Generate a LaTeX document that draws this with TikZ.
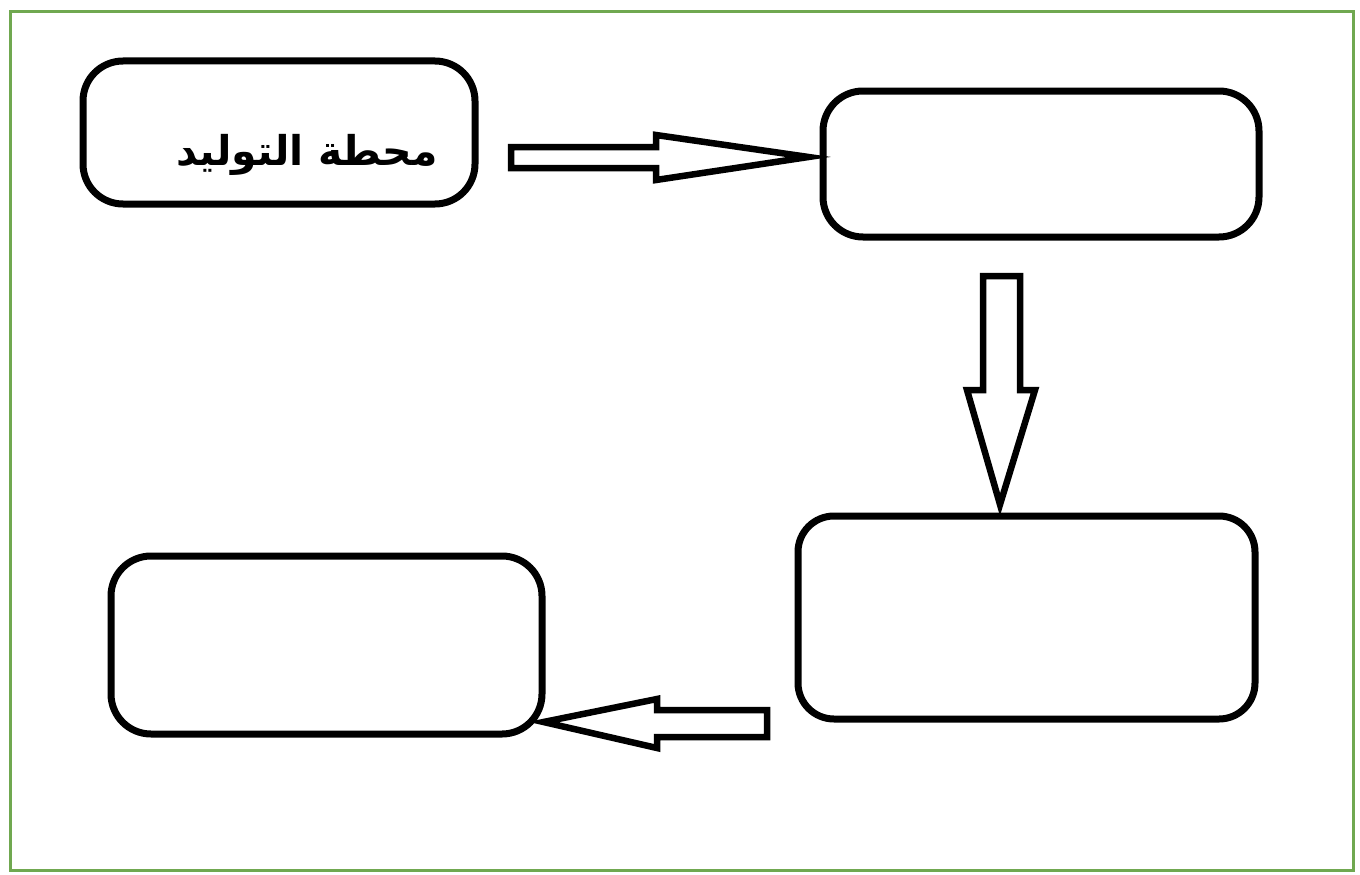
\documentclass[tikz,border=0pt]{standalone}
\usepackage{fontspec}
\newfontfamily\arabicfont[Script=Arabic]{DejaVu Sans}
\TeXXeTstate=1
\usetikzlibrary{calc}
\definecolor{frame}{RGB}{112,168,80}
\tikzset{
  box/.style={draw=black, line width=7pt, rounded corners=40pt, fill=white, inner sep=0pt},
  blockarrow/.style={draw=black, line width=6.5pt, line join=miter, fill=white},
}
\begin{document}
\begin{tikzpicture}[x=1pt,y=-1pt]
\useasboundingbox (0,0) rectangle (1360,875);
\fill[white] (0,0) rectangle (1360,875);
\draw[frame, line width=3pt] (10,12) rectangle (1353,870);
\node[box, minimum width=392pt, minimum height=143pt] (A) at (279,132.5) {};
\node[box, minimum width=436pt, minimum height=146pt] (B) at (1041,164) {};
\node[box, rounded corners=36pt, minimum width=457pt, minimum height=203pt] (C) at (1026.5,617.5) {};
\node[box, minimum width=431pt, minimum height=178pt] (D) at (326.5,645) {};
\node[font=\arabicfont\bfseries\fontsize{41}{48}\selectfont, inner sep=0pt] (Atext) at (307,155) {\beginR محطة التوليد\endR};
% arrow A -> B
\draw[blockarrow] (511,147) -- (656,147) -- (656,135) -- ($(B.west)+(-11,-7)$) -- (656,180) -- (656,168) -- (511,168) -- cycle;
% arrow B -> C
\draw[blockarrow] (983,276) -- (1020,276) -- (1020,390) -- (1035,390) -- ($(C.north)+(-26.5,-8)$) -- (967,390) -- (983,390) -- cycle;
% arrow C -> D
\draw[blockarrow] (767,710) -- (657,710) -- (657,699) -- ($(D.east)+(-2,77)$) -- (657,748) -- (657,737) -- (767,737) -- cycle;
\end{tikzpicture}
\end{document}
